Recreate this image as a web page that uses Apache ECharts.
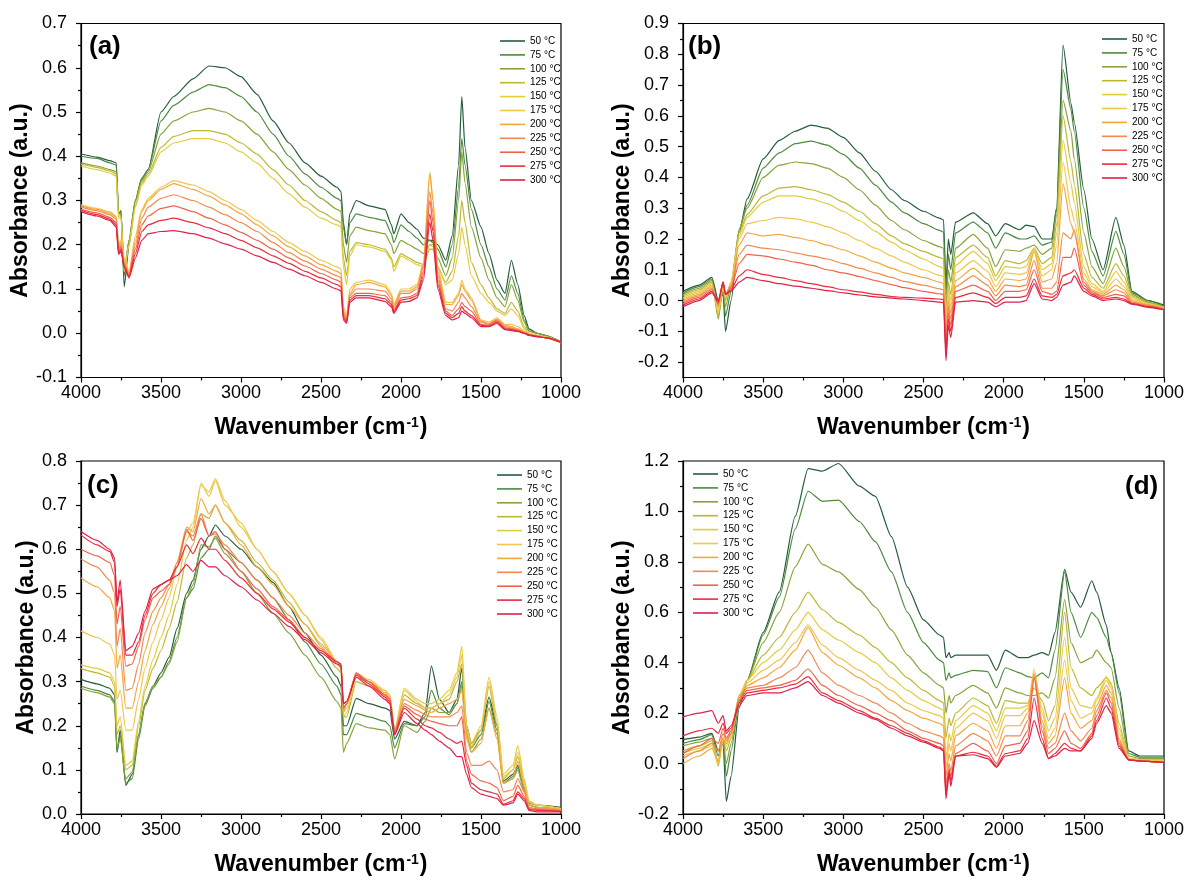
<!DOCTYPE html>
<html>
<head>
<meta charset="utf-8">
<script src="https://cdn.jsdelivr.net/npm/echarts@6/dist/echarts.min.js"></script>
<style>
  html, body { margin: 0; padding: 0; background: #fff; }
  #chart { width: 1190px; height: 884px; }
</style>
</head>
<body>
<div id="chart"></div>
<script>
const FONT = '"Liberation Sans", Arial, sans-serif'

const tempNames = ['50 °C', '75 °C', '100 °C', '125 °C', '150 °C', '175 °C', '200 °C', '225 °C', '250 °C', '275 °C', '300 °C']
const lineColors = ['#245c3c', '#4d8a3d', '#88a33a', '#bcb833', '#e2cd3b', '#f1c64e', '#f4a83c', '#f3894f', '#f0634a', '#e92b3c', '#e01f48']

// ---- panel (a) ----
const waveA = [4000, 3900, 3820, 3780, 3765, 3750, 3730, 3700, 3660, 3620, 3580, 3500, 3420, 3300, 3200, 3100, 3000, 2900, 2800, 2700, 2600, 2500, 2400, 2375, 2360, 2340, 2320, 2280, 2200, 2100, 2060, 2045, 2000, 1950, 1900, 1860, 1820, 1800, 1770, 1720, 1680, 1640, 1620, 1600, 1560, 1500, 1450, 1400, 1350, 1310, 1270, 1230, 1200, 1150, 1100, 1000]
const a50 = [0.405, 0.398, 0.39, 0.385, 0.27, 0.277, 0.105, 0.2, 0.3, 0.35, 0.37, 0.5, 0.535, 0.575, 0.604, 0.6, 0.58, 0.54, 0.48, 0.43, 0.385, 0.355, 0.33, 0.32, 0.25, 0.2, 0.27, 0.3, 0.288, 0.28, 0.245, 0.225, 0.27, 0.25, 0.235, 0.215, 0.21, 0.21, 0.2, 0.165, 0.22, 0.38, 0.535, 0.42, 0.3, 0.24, 0.18, 0.12, 0.09, 0.165, 0.11, 0.04, 0.01, 0, -0.005, -0.02]
const a75 = [0.4, 0.395, 0.385, 0.38, 0.27, 0.275, 0.13, 0.21, 0.3, 0.35, 0.37, 0.48, 0.515, 0.545, 0.562, 0.555, 0.535, 0.5, 0.45, 0.4, 0.36, 0.33, 0.305, 0.3, 0.24, 0.2, 0.25, 0.27, 0.262, 0.255, 0.225, 0.205, 0.245, 0.23, 0.215, 0.2, 0.21, 0.205, 0.19, 0.15, 0.2, 0.33, 0.44, 0.38, 0.28, 0.2, 0.15, 0.1, 0.075, 0.13, 0.09, 0.03, 0.005, 0, -0.005, -0.02]
const a100 = [0.385, 0.378, 0.37, 0.365, 0.27, 0.27, 0.14, 0.21, 0.3, 0.345, 0.365, 0.45, 0.48, 0.5, 0.508, 0.5, 0.48, 0.45, 0.41, 0.37, 0.335, 0.305, 0.28, 0.275, 0.2, 0.16, 0.22, 0.24, 0.232, 0.225, 0.2, 0.18, 0.21, 0.2, 0.19, 0.18, 0.2, 0.2, 0.17, 0.13, 0.17, 0.3, 0.41, 0.34, 0.24, 0.17, 0.12, 0.08, 0.06, 0.11, 0.075, 0.025, 0.005, 0, -0.005, -0.02]
const a125 = [0.382, 0.375, 0.367, 0.36, 0.265, 0.265, 0.14, 0.2, 0.29, 0.34, 0.36, 0.42, 0.445, 0.458, 0.458, 0.45, 0.43, 0.405, 0.37, 0.335, 0.3, 0.275, 0.255, 0.25, 0.17, 0.13, 0.185, 0.205, 0.2, 0.19, 0.17, 0.15, 0.18, 0.17, 0.16, 0.155, 0.19, 0.19, 0.15, 0.115, 0.14, 0.22, 0.3, 0.25, 0.16, 0.11, 0.08, 0.055, 0.045, 0.07, 0.05, 0.015, 0, -0.005, -0.008, -0.02]
const a150 = [0.378, 0.37, 0.362, 0.355, 0.26, 0.26, 0.14, 0.2, 0.285, 0.335, 0.355, 0.41, 0.43, 0.44, 0.44, 0.43, 0.41, 0.385, 0.35, 0.315, 0.285, 0.26, 0.245, 0.24, 0.15, 0.11, 0.175, 0.2, 0.195, 0.185, 0.165, 0.14, 0.175, 0.165, 0.155, 0.15, 0.2, 0.195, 0.15, 0.11, 0.12, 0.18, 0.24, 0.2, 0.13, 0.09, 0.07, 0.05, 0.04, 0.055, 0.04, 0.01, 0, -0.005, -0.008, -0.02]
const a175 = [0.29, 0.282, 0.275, 0.265, 0.2, 0.21, 0.17, 0.14, 0.22, 0.28, 0.305, 0.33, 0.345, 0.335, 0.32, 0.3, 0.28, 0.255, 0.23, 0.205, 0.185, 0.165, 0.15, 0.145, 0.06, 0.04, 0.1, 0.115, 0.12, 0.11, 0.09, 0.065, 0.1, 0.1, 0.11, 0.16, 0.365, 0.3, 0.15, 0.07, 0.07, 0.09, 0.12, 0.1, 0.08, 0.03, 0.025, 0.035, 0.02, 0.02, 0.015, 0.005, 0, -0.005, -0.008, -0.02]
const a200 = [0.288, 0.28, 0.272, 0.262, 0.195, 0.205, 0.165, 0.135, 0.21, 0.275, 0.3, 0.325, 0.338, 0.325, 0.31, 0.29, 0.27, 0.245, 0.22, 0.195, 0.175, 0.155, 0.14, 0.135, 0.05, 0.035, 0.09, 0.11, 0.115, 0.105, 0.085, 0.06, 0.095, 0.095, 0.105, 0.155, 0.36, 0.3, 0.14, 0.065, 0.065, 0.085, 0.11, 0.095, 0.075, 0.028, 0.022, 0.032, 0.018, 0.015, 0.01, 0.003, -0.002, -0.006, -0.01, -0.022]
const a225 = [0.285, 0.277, 0.268, 0.258, 0.19, 0.2, 0.16, 0.132, 0.2, 0.26, 0.285, 0.305, 0.313, 0.3, 0.285, 0.268, 0.25, 0.23, 0.205, 0.182, 0.163, 0.145, 0.13, 0.125, 0.045, 0.03, 0.085, 0.1, 0.1, 0.095, 0.078, 0.055, 0.09, 0.09, 0.1, 0.15, 0.32, 0.27, 0.13, 0.055, 0.05, 0.07, 0.09, 0.08, 0.06, 0.025, 0.02, 0.03, 0.015, 0.012, 0.008, 0.002, -0.003, -0.006, -0.01, -0.02]
const a250 = [0.28, 0.272, 0.262, 0.25, 0.185, 0.195, 0.155, 0.13, 0.19, 0.245, 0.265, 0.282, 0.288, 0.275, 0.26, 0.245, 0.228, 0.21, 0.19, 0.17, 0.152, 0.135, 0.12, 0.115, 0.04, 0.028, 0.08, 0.09, 0.09, 0.085, 0.07, 0.05, 0.08, 0.082, 0.09, 0.14, 0.3, 0.25, 0.12, 0.05, 0.04, 0.055, 0.07, 0.06, 0.05, 0.02, 0.018, 0.028, 0.012, 0.01, 0.006, 0, -0.004, -0.007, -0.01, -0.02]
const a275 = [0.278, 0.268, 0.258, 0.245, 0.18, 0.19, 0.15, 0.128, 0.18, 0.23, 0.245, 0.255, 0.26, 0.25, 0.238, 0.225, 0.21, 0.193, 0.175, 0.158, 0.14, 0.125, 0.11, 0.105, 0.035, 0.025, 0.075, 0.085, 0.085, 0.078, 0.065, 0.048, 0.075, 0.078, 0.085, 0.13, 0.27, 0.23, 0.11, 0.045, 0.035, 0.045, 0.06, 0.05, 0.04, 0.018, 0.016, 0.025, 0.01, 0.008, 0.005, 0, -0.004, -0.007, -0.01, -0.02]
const a300 = [0.275, 0.265, 0.255, 0.24, 0.178, 0.185, 0.148, 0.125, 0.17, 0.21, 0.225, 0.23, 0.232, 0.225, 0.215, 0.202, 0.19, 0.175, 0.16, 0.145, 0.13, 0.115, 0.1, 0.095, 0.03, 0.022, 0.07, 0.08, 0.08, 0.072, 0.06, 0.045, 0.07, 0.072, 0.08, 0.12, 0.25, 0.21, 0.1, 0.04, 0.03, 0.035, 0.05, 0.045, 0.035, 0.015, 0.015, 0.022, 0.008, 0.006, 0.004, 0, -0.005, -0.008, -0.01, -0.02]

// ---- panel (b) ----
const waveB = [4000, 3900, 3820, 3780, 3750, 3735, 3700, 3650, 3600, 3500, 3400, 3300, 3200, 3100, 3000, 2900, 2800, 2700, 2620, 2500, 2400, 2375, 2360, 2345, 2330, 2300, 2190, 2100, 2050, 1990, 1900, 1860, 1810, 1760, 1700, 1670, 1630, 1580, 1560, 1500, 1450, 1380, 1300, 1250, 1200, 1100, 1000]
const b50 = [0.03, 0.05, 0.075, 0, 0.02, -0.1, 0, 0.22, 0.33, 0.46, 0.52, 0.55, 0.57, 0.56, 0.53, 0.48, 0.42, 0.36, 0.325, 0.29, 0.268, 0.262, 0.05, 0.2, 0.15, 0.255, 0.285, 0.25, 0.21, 0.25, 0.23, 0.245, 0.24, 0.2, 0.2, 0.3, 0.83, 0.64, 0.58, 0.36, 0.2, 0.1, 0.27, 0.18, 0.03, 0, -0.015]
const b75 = [0.025, 0.045, 0.07, -0.02, 0.03, -0.05, 0.03, 0.23, 0.31, 0.43, 0.48, 0.51, 0.518, 0.505, 0.475, 0.43, 0.375, 0.32, 0.285, 0.25, 0.228, 0.222, 0.02, 0.15, 0.1, 0.22, 0.255, 0.22, 0.17, 0.22, 0.2, 0.2, 0.21, 0.18, 0.19, 0.3, 0.75, 0.62, 0.55, 0.3, 0.16, 0.08, 0.225, 0.15, 0.025, 0, -0.018]
const b100 = [0.02, 0.04, 0.065, -0.06, 0.04, -0.02, 0.05, 0.23, 0.3, 0.4, 0.44, 0.45, 0.445, 0.43, 0.4, 0.36, 0.31, 0.26, 0.23, 0.195, 0.175, 0.17, -0.02, 0.1, 0.06, 0.17, 0.215, 0.17, 0.11, 0.165, 0.16, 0.17, 0.18, 0.15, 0.17, 0.28, 0.65, 0.55, 0.46, 0.22, 0.11, 0.055, 0.17, 0.11, 0.02, -0.005, -0.02]
const b125 = [0.015, 0.035, 0.06, -0.05, 0.045, 0, 0.06, 0.22, 0.28, 0.34, 0.365, 0.37, 0.36, 0.345, 0.32, 0.29, 0.25, 0.21, 0.185, 0.16, 0.14, 0.135, -0.05, 0.06, 0.02, 0.14, 0.18, 0.14, 0.08, 0.13, 0.12, 0.13, 0.17, 0.12, 0.14, 0.25, 0.6, 0.45, 0.38, 0.15, 0.075, 0.04, 0.12, 0.08, 0.015, -0.008, -0.022]
const b150 = [0.01, 0.03, 0.055, -0.04, 0.05, 0.01, 0.06, 0.21, 0.27, 0.32, 0.34, 0.34, 0.33, 0.315, 0.29, 0.26, 0.225, 0.19, 0.165, 0.135, 0.11, 0.105, -0.07, 0.04, 0, 0.115, 0.16, 0.12, 0.065, 0.11, 0.105, 0.11, 0.17, 0.1, 0.12, 0.22, 0.52, 0.38, 0.32, 0.11, 0.055, 0.03, 0.095, 0.06, 0.01, -0.01, -0.024]
const b175 = [0.005, 0.025, 0.05, -0.03, 0.05, 0.015, 0.06, 0.2, 0.25, 0.26, 0.27, 0.265, 0.255, 0.24, 0.22, 0.195, 0.17, 0.145, 0.125, 0.1, 0.082, 0.078, -0.09, 0.02, -0.02, 0.09, 0.13, 0.095, 0.045, 0.09, 0.085, 0.09, 0.165, 0.08, 0.1, 0.18, 0.45, 0.3, 0.26, 0.09, 0.045, 0.025, 0.07, 0.045, 0.005, -0.012, -0.025]
const b200 = [0, 0.02, 0.045, -0.02, 0.055, 0.02, 0.05, 0.18, 0.22, 0.21, 0.215, 0.205, 0.195, 0.18, 0.165, 0.145, 0.125, 0.105, 0.09, 0.075, 0.06, 0.056, -0.11, 0, -0.04, 0.065, 0.105, 0.07, 0.03, 0.07, 0.065, 0.07, 0.16, 0.06, 0.07, 0.12, 0.38, 0.25, 0.22, 0.07, 0.035, 0.02, 0.05, 0.035, 0, -0.014, -0.026]
const b225 = [-0.005, 0.015, 0.04, -0.015, 0.055, 0.02, 0.045, 0.15, 0.18, 0.17, 0.165, 0.155, 0.145, 0.135, 0.12, 0.105, 0.09, 0.075, 0.062, 0.05, 0.038, 0.035, -0.13, -0.02, -0.06, 0.045, 0.08, 0.05, 0.015, 0.05, 0.045, 0.05, 0.13, 0.04, 0.04, 0.06, 0.22, 0.2, 0.23, 0.06, 0.03, 0.015, 0.035, 0.025, -0.005, -0.016, -0.027]
const b250 = [-0.01, 0.01, 0.035, -0.01, 0.06, 0.02, 0.04, 0.12, 0.15, 0.145, 0.135, 0.125, 0.115, 0.1, 0.09, 0.078, 0.065, 0.052, 0.042, 0.03, 0.022, 0.02, -0.15, -0.04, -0.08, 0.03, 0.05, 0.03, 0, 0.03, 0.03, 0.035, 0.1, 0.03, 0.02, 0.03, 0.14, 0.14, 0.17, 0.05, 0.025, 0.01, 0.02, 0.015, -0.008, -0.018, -0.028]
const b275 = [-0.015, 0.005, 0.03, -0.005, 0.06, 0.02, 0.035, 0.08, 0.1, 0.085, 0.075, 0.065, 0.055, 0.045, 0.035, 0.028, 0.02, 0.013, 0.01, 0.008, 0.005, 0.003, -0.17, -0.06, -0.1, 0.01, 0.025, 0.01, -0.01, 0.01, 0.01, 0.015, 0.07, 0.015, 0.01, 0.02, 0.08, 0.09, 0.1, 0.04, 0.02, 0.005, 0.01, 0.005, -0.01, -0.02, -0.03]
const b300 = [-0.02, 0, 0.025, 0, 0.06, 0.02, 0.03, 0.06, 0.075, 0.065, 0.055, 0.047, 0.04, 0.032, 0.025, 0.018, 0.012, 0.008, 0.005, 0, -0.005, -0.007, -0.195, -0.08, -0.12, -0.005, 0, -0.005, -0.02, -0.005, -0.005, 0, 0.055, 0.005, 0, 0.01, 0.05, 0.06, 0.08, 0.03, 0.015, 0, 0.005, 0, -0.012, -0.022, -0.03]

// ---- panel (c) ----
const waveC = [4000, 3900, 3820, 3790, 3775, 3755, 3720, 3680, 3640, 3600, 3550, 3500, 3450, 3400, 3340, 3300, 3250, 3200, 3160, 3100, 3000, 2900, 2800, 2700, 2600, 2500, 2400, 2375, 2360, 2340, 2280, 2200, 2100, 2070, 2040, 1980, 1900, 1850, 1810, 1760, 1700, 1650, 1620, 1590, 1560, 1500, 1450, 1400, 1360, 1300, 1270, 1230, 1200, 1150, 1000]
const c50 = [0.305, 0.295, 0.285, 0.27, 0.14, 0.19, 0.065, 0.09, 0.18, 0.25, 0.29, 0.32, 0.355, 0.42, 0.5, 0.53, 0.6, 0.63, 0.655, 0.63, 0.6, 0.56, 0.525, 0.47, 0.41, 0.36, 0.31, 0.29, 0.2, 0.2, 0.262, 0.25, 0.24, 0.235, 0.17, 0.21, 0.2, 0.23, 0.335, 0.26, 0.23, 0.26, 0.33, 0.2, 0.16, 0.19, 0.265, 0.2, 0.075, 0.09, 0.11, 0.06, 0.025, 0.02, 0.015]
const c75 = [0.29, 0.28, 0.27, 0.255, 0.14, 0.18, 0.07, 0.08, 0.17, 0.245, 0.285, 0.31, 0.345, 0.4, 0.49, 0.51, 0.58, 0.6, 0.63, 0.6, 0.57, 0.53, 0.49, 0.44, 0.39, 0.34, 0.29, 0.27, 0.18, 0.18, 0.228, 0.22, 0.21, 0.2, 0.15, 0.205, 0.2, 0.22, 0.28, 0.24, 0.225, 0.25, 0.3, 0.19, 0.15, 0.18, 0.255, 0.19, 0.07, 0.085, 0.105, 0.055, 0.02, 0.015, 0.01]
const c100 = [0.285, 0.275, 0.265, 0.25, 0.15, 0.17, 0.08, 0.095, 0.18, 0.25, 0.29, 0.31, 0.34, 0.39, 0.49, 0.52, 0.61, 0.605, 0.625, 0.59, 0.55, 0.5, 0.455, 0.41, 0.36, 0.31, 0.255, 0.24, 0.14, 0.16, 0.205, 0.195, 0.19, 0.18, 0.125, 0.2, 0.185, 0.21, 0.24, 0.23, 0.23, 0.25, 0.29, 0.18, 0.14, 0.17, 0.24, 0.18, 0.07, 0.08, 0.1, 0.05, 0.02, 0.015, 0.01]
const c125 = [0.33, 0.32, 0.31, 0.29, 0.18, 0.2, 0.1, 0.11, 0.2, 0.28, 0.33, 0.37, 0.42, 0.48, 0.58, 0.61, 0.68, 0.67, 0.7, 0.66, 0.62, 0.57, 0.53, 0.48, 0.43, 0.38, 0.33, 0.32, 0.22, 0.22, 0.3, 0.29, 0.27, 0.26, 0.18, 0.27, 0.25, 0.24, 0.24, 0.25, 0.26, 0.3, 0.34, 0.18, 0.15, 0.19, 0.29, 0.2, 0.08, 0.1, 0.13, 0.07, 0.025, 0.02, 0.012]
const c150 = [0.338, 0.33, 0.32, 0.3, 0.2, 0.22, 0.11, 0.12, 0.21, 0.29, 0.35, 0.4, 0.45, 0.52, 0.62, 0.65, 0.75, 0.72, 0.755, 0.7, 0.66, 0.6, 0.55, 0.5, 0.45, 0.395, 0.34, 0.33, 0.22, 0.23, 0.31, 0.3, 0.28, 0.27, 0.19, 0.285, 0.26, 0.25, 0.25, 0.26, 0.28, 0.32, 0.38, 0.2, 0.16, 0.2, 0.31, 0.22, 0.09, 0.11, 0.155, 0.08, 0.03, 0.02, 0.012]
const c175 = [0.415, 0.4, 0.385, 0.36, 0.26, 0.28, 0.19, 0.19, 0.26, 0.33, 0.39, 0.44, 0.49, 0.56, 0.64, 0.66, 0.745, 0.73, 0.76, 0.71, 0.65, 0.6, 0.55, 0.5, 0.45, 0.4, 0.345, 0.335, 0.23, 0.24, 0.315, 0.305, 0.28, 0.27, 0.19, 0.28, 0.255, 0.24, 0.24, 0.25, 0.27, 0.31, 0.36, 0.19, 0.155, 0.19, 0.3, 0.21, 0.085, 0.1, 0.14, 0.075, 0.028, 0.02, 0.012]
const c200 = [0.535, 0.515, 0.49, 0.46, 0.33, 0.36, 0.24, 0.24, 0.3, 0.37, 0.43, 0.47, 0.51, 0.57, 0.65, 0.64, 0.715, 0.68, 0.7, 0.66, 0.61, 0.56, 0.52, 0.47, 0.43, 0.385, 0.345, 0.335, 0.23, 0.25, 0.32, 0.3, 0.275, 0.265, 0.19, 0.26, 0.245, 0.235, 0.23, 0.24, 0.25, 0.26, 0.28, 0.17, 0.14, 0.16, 0.24, 0.17, 0.07, 0.08, 0.12, 0.06, 0.02, 0.015, 0.01]
const c225 = [0.578, 0.56, 0.53, 0.5, 0.38, 0.42, 0.28, 0.285, 0.34, 0.41, 0.46, 0.49, 0.52, 0.57, 0.64, 0.63, 0.68, 0.63, 0.635, 0.61, 0.57, 0.53, 0.49, 0.45, 0.41, 0.375, 0.345, 0.335, 0.24, 0.25, 0.32, 0.3, 0.27, 0.26, 0.19, 0.25, 0.235, 0.225, 0.22, 0.22, 0.22, 0.23, 0.245, 0.14, 0.11, 0.11, 0.12, 0.1, 0.05, 0.055, 0.08, 0.05, 0.015, 0.012, 0.008]
const c250 = [0.6, 0.585, 0.57, 0.54, 0.43, 0.47, 0.335, 0.34, 0.38, 0.44, 0.49, 0.505, 0.52, 0.56, 0.645, 0.62, 0.67, 0.63, 0.64, 0.6, 0.55, 0.51, 0.47, 0.44, 0.4, 0.37, 0.345, 0.34, 0.24, 0.25, 0.318, 0.3, 0.27, 0.26, 0.185, 0.245, 0.225, 0.215, 0.21, 0.205, 0.2, 0.2, 0.22, 0.12, 0.09, 0.075, 0.07, 0.06, 0.03, 0.04, 0.065, 0.04, 0.012, 0.01, 0.007]
const c275 = [0.632, 0.61, 0.595, 0.57, 0.47, 0.51, 0.36, 0.36, 0.39, 0.45, 0.5, 0.52, 0.53, 0.56, 0.61, 0.59, 0.625, 0.6, 0.6, 0.575, 0.535, 0.5, 0.465, 0.435, 0.4, 0.37, 0.345, 0.34, 0.25, 0.255, 0.315, 0.295, 0.265, 0.255, 0.18, 0.24, 0.215, 0.2, 0.195, 0.185, 0.17, 0.16, 0.165, 0.11, 0.07, 0.055, 0.05, 0.045, 0.022, 0.03, 0.05, 0.035, 0.01, 0.008, 0.006]
const c300 = [0.64, 0.62, 0.6, 0.58, 0.48, 0.53, 0.37, 0.38, 0.41, 0.46, 0.51, 0.52, 0.53, 0.54, 0.565, 0.55, 0.575, 0.56, 0.56, 0.54, 0.515, 0.485, 0.455, 0.425, 0.395, 0.365, 0.34, 0.335, 0.25, 0.255, 0.31, 0.29, 0.26, 0.25, 0.18, 0.23, 0.205, 0.19, 0.18, 0.165, 0.15, 0.13, 0.13, 0.09, 0.06, 0.045, 0.04, 0.035, 0.02, 0.025, 0.045, 0.03, 0.008, 0.005, 0.005]

// ---- panel (d) ----
const waveD = [4000, 3900, 3820, 3780, 3750, 3730, 3700, 3650, 3600, 3500, 3400, 3300, 3220, 3130, 3030, 2900, 2800, 2700, 2600, 2500, 2400, 2375, 2360, 2340, 2330, 2300, 2190, 2100, 2045, 1990, 1900, 1850, 1810, 1760, 1720, 1680, 1620, 1580, 1520, 1450, 1420, 1360, 1330, 1280, 1220, 1150, 1000]
const d50 = [0.095, 0.105, 0.12, 0.05, 0.08, -0.15, -0.05, 0.22, 0.33, 0.52, 0.68, 0.98, 1.17, 1.16, 1.19, 1.1, 1.06, 0.9, 0.7, 0.57, 0.51, 0.5, 0.42, 0.44, 0.42, 0.43, 0.43, 0.43, 0.37, 0.45, 0.42, 0.42, 0.43, 0.44, 0.43, 0.52, 0.77, 0.68, 0.62, 0.725, 0.68, 0.55, 0.44, 0.3, 0.05, 0.03, 0.03]
const d75 = [0.08, 0.095, 0.115, 0.03, 0.1, -0.05, 0.05, 0.24, 0.33, 0.51, 0.66, 0.93, 1.08, 1.04, 1.045, 0.96, 0.88, 0.76, 0.6, 0.48, 0.41, 0.4, 0.33, 0.36, 0.34, 0.35, 0.37, 0.365, 0.3, 0.38, 0.36, 0.345, 0.34, 0.36, 0.34, 0.45, 0.76, 0.6, 0.5, 0.6, 0.58, 0.5, 0.44, 0.28, 0.04, 0.025, 0.025]
const d100 = [0.07, 0.085, 0.1, 0, 0.1, 0, 0.08, 0.25, 0.33, 0.48, 0.6, 0.78, 0.87, 0.79, 0.76, 0.69, 0.62, 0.53, 0.43, 0.36, 0.31, 0.3, 0.2, 0.27, 0.24, 0.27, 0.31, 0.28, 0.22, 0.3, 0.28, 0.27, 0.27, 0.28, 0.26, 0.34, 0.65, 0.48, 0.4, 0.42, 0.45, 0.4, 0.38, 0.22, 0.03, 0.02, 0.02]
const d125 = [0.05, 0.07, 0.09, -0.01, 0.1, 0.05, 0.1, 0.26, 0.33, 0.43, 0.5, 0.6, 0.68, 0.61, 0.56, 0.51, 0.46, 0.4, 0.34, 0.29, 0.25, 0.24, 0.1, 0.18, 0.15, 0.2, 0.26, 0.23, 0.16, 0.25, 0.24, 0.24, 0.3, 0.25, 0.17, 0.23, 0.6, 0.38, 0.3, 0.27, 0.3, 0.34, 0.32, 0.16, 0.02, 0.015, 0.015]
const d150 = [0.04, 0.06, 0.08, 0, 0.1, 0.07, 0.11, 0.27, 0.33, 0.4, 0.45, 0.53, 0.6, 0.53, 0.49, 0.44, 0.4, 0.34, 0.29, 0.25, 0.22, 0.21, 0.02, 0.12, 0.09, 0.17, 0.23, 0.2, 0.13, 0.22, 0.22, 0.23, 0.34, 0.22, 0.13, 0.18, 0.5, 0.3, 0.23, 0.22, 0.26, 0.345, 0.31, 0.14, 0.02, 0.015, 0.01]
const d175 = [0.03, 0.05, 0.07, 0, 0.1, 0.08, 0.12, 0.27, 0.32, 0.37, 0.41, 0.48, 0.55, 0.47, 0.42, 0.37, 0.33, 0.29, 0.24, 0.21, 0.19, 0.18, -0.02, 0.08, 0.05, 0.14, 0.2, 0.17, 0.1, 0.19, 0.19, 0.22, 0.375, 0.2, 0.1, 0.14, 0.41, 0.25, 0.18, 0.2, 0.25, 0.33, 0.3, 0.12, 0.02, 0.012, 0.01]
const d200 = [0, 0.03, 0.06, 0.01, 0.1, 0.08, 0.12, 0.27, 0.31, 0.34, 0.38, 0.45, 0.54, 0.44, 0.39, 0.34, 0.3, 0.25, 0.21, 0.18, 0.16, 0.15, -0.05, 0.04, 0.01, 0.11, 0.16, 0.13, 0.06, 0.15, 0.15, 0.2, 0.36, 0.17, 0.08, 0.11, 0.34, 0.2, 0.14, 0.17, 0.23, 0.31, 0.28, 0.1, 0.015, 0.01, 0.005]
const d225 = [0.02, 0.05, 0.08, 0.05, 0.12, 0.09, 0.12, 0.26, 0.3, 0.31, 0.34, 0.38, 0.45, 0.36, 0.31, 0.27, 0.24, 0.2, 0.16, 0.13, 0.11, 0.1, -0.08, 0, -0.03, 0.07, 0.12, 0.09, 0.03, 0.11, 0.11, 0.17, 0.35, 0.15, 0.06, 0.08, 0.2, 0.13, 0.09, 0.14, 0.21, 0.29, 0.26, 0.09, 0.015, 0.01, 0.005]
const d250 = [0.04, 0.07, 0.1, 0.08, 0.14, 0.1, 0.13, 0.25, 0.29, 0.3, 0.31, 0.33, 0.375, 0.31, 0.27, 0.23, 0.2, 0.17, 0.13, 0.1, 0.08, 0.07, -0.1, -0.02, -0.05, 0.04, 0.08, 0.05, 0, 0.07, 0.08, 0.13, 0.34, 0.13, 0.04, 0.06, 0.13, 0.08, 0.06, 0.12, 0.19, 0.28, 0.24, 0.08, 0.015, 0.01, 0.005]
const d275 = [0.11, 0.13, 0.14, 0.12, 0.16, 0.12, 0.14, 0.24, 0.28, 0.29, 0.3, 0.315, 0.345, 0.28, 0.25, 0.21, 0.18, 0.15, 0.12, 0.09, 0.065, 0.055, -0.12, -0.03, -0.07, 0.03, 0.045, 0.03, -0.01, 0.04, 0.05, 0.1, 0.26, 0.1, 0.02, 0.04, 0.08, 0.06, 0.05, 0.11, 0.17, 0.26, 0.22, 0.07, 0.015, 0.01, 0.005]
const d300 = [0.185, 0.2, 0.21, 0.16, 0.19, 0.13, 0.15, 0.23, 0.27, 0.28, 0.28, 0.3, 0.325, 0.27, 0.24, 0.2, 0.175, 0.14, 0.11, 0.085, 0.06, 0.05, -0.14, -0.04, -0.09, 0.03, 0.035, 0.02, -0.015, 0.03, 0.04, 0.08, 0.17, 0.08, 0.02, 0.03, 0.06, 0.05, 0.05, 0.1, 0.16, 0.23, 0.2, 0.06, 0.015, 0.01, 0.005]

// y tick labels of panel (b) (axis starts at -0.25, so ticks are listed)
const bMajorTicks = [-0.2, -0.1, 0, 0.1, 0.2, 0.3, 0.4, 0.5, 0.6, 0.7, 0.8, 0.9]
const bMinorTicks = [-0.15, -0.05, 0.05, 0.15, 0.25, 0.35, 0.45, 0.55, 0.65, 0.75, 0.85]

const panels = [
  { xs: waveA, rows: [a50, a75, a100, a125, a150, a175, a200, a225, a250, a275, a300],
    box: { left: 81, top: 23.5, width: 480, height: 354 }, y: { min: -0.1, max: 0.7, interval: 0.1 },
    tag: '(a)', tagPos: [89, 34], legendPos: [495, 31] },
  { xs: waveB, rows: [b50, b75, b100, b125, b150, b175, b200, b225, b250, b275, b300],
    box: { left: 683, top: 23.5, width: 481, height: 354 }, y: { min: -0.25, max: 0.9 },
    tag: '(b)', tagPos: [688, 34], legendPos: [1097, 29] },
  { xs: waveC, rows: [c50, c75, c100, c125, c150, c175, c200, c225, c250, c275, c300],
    box: { left: 81, top: 461, width: 480, height: 353 }, y: { min: 0, max: 0.8, interval: 0.1 },
    tag: '(c)', tagPos: [87, 473], legendPos: [492, 465] },
  { xs: waveD, rows: [d50, d75, d100, d125, d150, d175, d200, d225, d250, d275, d300],
    box: { left: 683, top: 461, width: 481, height: 353 }, y: { min: -0.2, max: 1.2, interval: 0.2 },
    tag: '(d)', tagPos: [1125, 474], legendPos: [688, 464] }
]

const tickLabel = { color: '#000', fontSize: 18, fontFamily: FONT }
const tickStyle = { color: '#000', width: 1.2 }

const grid = [], xAxis = [], yAxis = [], series = [], legend = [], graphic = []

panels.forEach((p, g) => {
  grid.push(Object.assign({ show: true, borderColor: '#000', borderWidth: 1.2, outerBoundsMode: 'none' }, p.box))

  xAxis.push({
    type: 'value', gridIndex: g, inverse: true, min: 1000, max: 4000, interval: 500,
    name: '{t|Wavenumber (cm}{s|-1}{t|)}', nameLocation: 'middle', nameGap: 39,
    nameTextStyle: { rich: {
      t: { fontSize: 23, fontWeight: 'bold', fontFamily: FONT, color: '#000' },
      s: { fontSize: 14, fontWeight: 'bold', fontFamily: FONT, color: '#000', verticalAlign: 'top', padding: [0, 1, 0, 1] }
    } },
    axisLine: { show: true, onZero: false, lineStyle: tickStyle },
    axisTick: { show: true, length: 5, lineStyle: tickStyle },
    minorTick: { show: true, splitNumber: 2, length: 3, lineStyle: tickStyle },
    axisLabel: Object.assign({ margin: 7, formatter: (v) => String(v) }, tickLabel),
    splitLine: { show: false }
  })

  const yBase = {
    type: 'value', gridIndex: g, min: p.y.min, max: p.y.max,
    name: 'Absorbance (a.u.)', nameLocation: 'middle', nameGap: 42,
    nameTextStyle: { fontSize: 23, fontWeight: 'bold', fontFamily: FONT, color: '#000' },
    axisLine: { show: true, onZero: false, lineStyle: tickStyle },
    axisLabel: Object.assign({ margin: 14, formatter: (v) => v.toFixed(1) }, tickLabel),
    splitLine: { show: false }
  }
  if (p.y.interval) {
    yBase.interval = p.y.interval
    yBase.axisTick = { show: true, length: 5, lineStyle: tickStyle }
    yBase.minorTick = { show: true, splitNumber: 2, length: 3, lineStyle: tickStyle }
  } else {
    yBase.axisLabel.customValues = bMajorTicks
    yBase.axisTick = { show: true, length: 5, customValues: bMajorTicks, lineStyle: tickStyle }
  }
  yAxis.push(yBase)

  p.rows.forEach((row, k) => {
    series.push({
      type: 'line', name: tempNames[k], xAxisIndex: g, yAxisIndex: g,
      data: p.xs.map((x, i) => [x, row[i]]),
      symbol: 'none', smooth: 0.2, smoothMonotone: 'x',
      lineStyle: { width: 1.2, color: lineColors[k] },
      itemStyle: { color: lineColors[k] },
      animation: false
    })
  })

  legend.push({
    data: tempNames, orient: 'vertical', left: p.legendPos[0], top: p.legendPos[1],
    icon: 'rect', itemWidth: 25, itemHeight: 1.6, itemGap: 3.9, selectedMode: false,
    textStyle: { fontSize: 10, fontFamily: FONT, color: '#000', lineHeight: 10 }
  })

  graphic.push({
    type: 'text', left: p.tagPos[0], top: p.tagPos[1],
    style: { text: p.tag, font: 'bold 26px ' + FONT, fill: '#000' }
  })
})

// minor ticks for panel (b), drawn by an extra axis on the same grid
yAxis.push({
  type: 'value', gridIndex: 1, min: -0.25, max: 0.9, position: 'left',
  axisLine: { show: false, onZero: false }, axisLabel: { show: false }, splitLine: { show: false },
  axisTick: { show: true, length: 3, customValues: bMinorTicks, lineStyle: tickStyle }
})

const chart = echarts.init(document.getElementById('chart'), null, { renderer: 'canvas' })
chart.setOption({
  backgroundColor: '#fff',
  animation: false,
  grid, xAxis, yAxis, series, legend, graphic
})
</script>
</body>
</html>
